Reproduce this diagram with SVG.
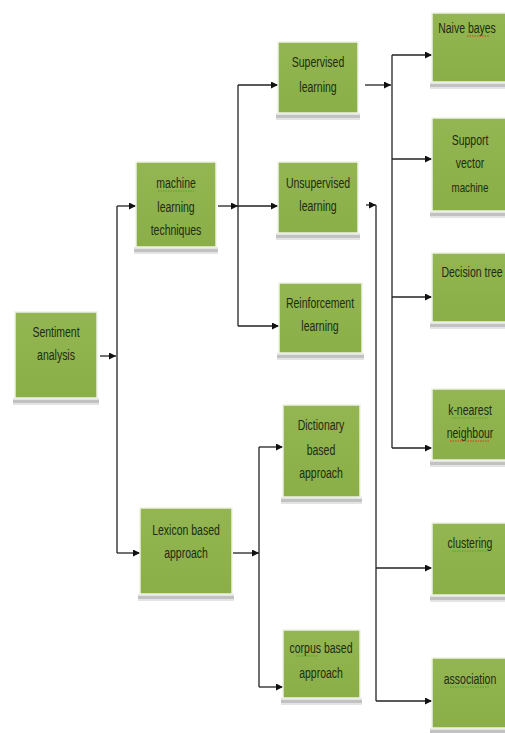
<svg xmlns="http://www.w3.org/2000/svg" width="505" height="733" viewBox="0 0 505 733">
<defs>
<marker id="ah" markerWidth="7" markerHeight="7" refX="7" refY="3.5" orient="auto" markerUnits="userSpaceOnUse">
<path d="M0,0 L7,3.5 L0,7 z" fill="#111"/>
</marker>
<linearGradient id="g" x1="0" y1="0" x2="0" y2="1">
<stop offset="0" stop-color="#93b652"/>
<stop offset="1" stop-color="#8aae48"/>
</linearGradient>
</defs>
<style>
.box{fill:url(#g);stroke:#eef2e4;stroke-width:1.5}
.sh{fill:#c2c2c2}
.shl{fill:#e4e4e4}
text{font-family:"Liberation Sans",Arial,sans-serif;font-size:14px;fill:#1f2b12;text-anchor:middle}
.c{fill:none;stroke:#222;stroke-width:1.3}
.a{fill:none;stroke:#222;stroke-width:1.3;marker-end:url(#ah)}
.sqg{fill:none;stroke:#5aa02c;stroke-width:1;stroke-dasharray:1.5 1}
.sqr{fill:none;stroke:#d0401c;stroke-width:1;stroke-dasharray:1.5 1}
</style>
<rect width="505" height="733" fill="#ffffff"/>

<g id="connectors">
<path class="a" d="M100,356 H116"/>
<path class="c" d="M117,206 V553"/>
<path class="a" d="M117,206 H136"/>
<path class="a" d="M117,553 H140"/>
<path class="a" d="M218,206 H238"/>
<path class="c" d="M238,85 V326"/>
<path class="a" d="M238,85 H278"/>
<path class="a" d="M238,206 H278"/>
<path class="a" d="M238,326 H279"/>
<path class="a" d="M365,85 H391"/>
<path class="c" d="M392,55 V448"/>
<path class="a" d="M392,55 H432"/>
<path class="a" d="M392,159 H432"/>
<path class="a" d="M392,297 H432"/>
<path class="a" d="M392,448 H432"/>
<path class="a" d="M366,205 H376"/>
<path class="c" d="M376,205 V701"/>
<path class="a" d="M376,568 H432"/>
<path class="a" d="M376,701 H432"/>
<path class="a" d="M233,553 H259"/>
<path class="c" d="M259,447 V687"/>
<path class="a" d="M259,447 H283"/>
<path class="a" d="M259,687 H283"/>
</g>

<g id="sentiment">
<rect class="shl" x="13" y="398" width="86" height="7"/><rect class="sh" x="13" y="400" width="86" height="3"/>
<rect class="box" x="15" y="312" width="82" height="86"/>
<text transform="translate(56,337) scale(0.75,1)">Sentiment</text><text transform="translate(56,360) scale(0.75,1)">analysis</text>
</g>

<g id="machine">
<rect class="shl" x="134" y="247" width="84" height="7"/><rect class="sh" x="134" y="249" width="84" height="3"/>
<rect class="box" x="136" y="162" width="80" height="85"/>
<text transform="translate(176,188) scale(0.75,1)">machine</text><text transform="translate(176,212) scale(0.75,1)">learning</text><text transform="translate(176,235) scale(0.75,1)">techniques</text>
<path class="sqg" d="M158,191 H194"/>
</g>

<g id="supervised">
<rect class="shl" x="276" y="113" width="84" height="7"/><rect class="sh" x="276" y="115" width="84" height="3"/>
<rect class="box" x="278" y="42" width="80" height="71"/>
<text transform="translate(318,67) scale(0.75,1)">Supervised</text><text transform="translate(318,92) scale(0.75,1)">learning</text>
</g>

<g id="unsupervised">
<rect class="shl" x="276" y="233" width="84" height="7"/><rect class="sh" x="276" y="235" width="84" height="3"/>
<rect class="box" x="278" y="162" width="80" height="71"/>
<text transform="translate(318,188) scale(0.75,1)">Unsupervised</text><text transform="translate(318,211) scale(0.75,1)">learning</text>
</g>

<g id="reinforcement">
<rect class="shl" x="277" y="353" width="87" height="7"/><rect class="sh" x="277" y="355" width="87" height="3"/>
<rect class="box" x="279" y="283" width="83" height="70"/>
<text transform="translate(320,308) scale(0.75,1)">Reinforcement</text><text transform="translate(320,331) scale(0.75,1)">learning</text>
</g>

<g id="lexicon">
<rect class="shl" x="138" y="594" width="96" height="7"/><rect class="sh" x="138" y="596" width="96" height="3"/>
<rect class="box" x="140" y="508" width="92" height="86"/>
<text transform="translate(186,535) scale(0.75,1)">Lexicon based</text><text transform="translate(186,558) scale(0.75,1)">approach</text>
</g>

<g id="dictionary">
<rect class="shl" x="281" y="497" width="81" height="7"/><rect class="sh" x="281" y="499" width="81" height="3"/>
<rect class="box" x="283" y="405" width="77" height="92"/>
<text transform="translate(321,430) scale(0.75,1)">Dictionary</text><text transform="translate(321,455) scale(0.75,1)">based</text><text transform="translate(321,478) scale(0.75,1)">approach</text>
</g>

<g id="corpus">
<rect class="shl" x="281" y="698" width="81" height="7"/><rect class="sh" x="281" y="700" width="81" height="3"/>
<rect class="box" x="283" y="630" width="77" height="68"/>
<text transform="translate(321,653) scale(0.75,1)">corpus based</text><text transform="translate(321,678) scale(0.75,1)">approach</text>
<path class="sqg" d="M296,656 H318"/>
</g>

<g id="naive">
<rect class="shl" x="430" y="82" width="80" height="7"/><rect class="sh" x="430" y="84" width="80" height="3"/>
<rect class="box" x="432" y="13" width="80" height="69"/>
<text transform="translate(467,33) scale(0.75,1)">Naive bayes</text>
<path class="sqr" d="M467,36 H489"/>
</g>

<g id="svm">
<rect class="shl" x="430" y="211" width="80" height="7"/><rect class="sh" x="430" y="213" width="80" height="3"/>
<rect class="box" x="432" y="118" width="80" height="93"/>
<text transform="translate(470,145) scale(0.75,1)">Support</text><text transform="translate(470,168) scale(0.75,1)">vector</text><text transform="translate(470,192) scale(0.75,1)" style="font-size:13px">machine</text>
</g>

<g id="decision">
<rect class="shl" x="430" y="322" width="80" height="7"/><rect class="sh" x="430" y="324" width="80" height="3"/>
<rect class="box" x="432" y="253" width="80" height="69"/>
<text transform="translate(472,277) scale(0.75,1)">Decision tree</text>
</g>

<g id="knn">
<rect class="shl" x="430" y="460" width="80" height="7"/><rect class="sh" x="430" y="462" width="80" height="3"/>
<rect class="box" x="432" y="389" width="80" height="71"/>
<text transform="translate(470,415) scale(0.75,1)">k-nearest</text><text transform="translate(470,438) scale(0.75,1)">neighbour</text>
<path class="sqg" d="M452,418 H488"/>
<path class="sqr" d="M450,441 H490"/>
</g>

<g id="clustering">
<rect class="shl" x="430" y="595" width="80" height="7"/><rect class="sh" x="430" y="597" width="80" height="3"/>
<rect class="box" x="432" y="523" width="80" height="72"/>
<text transform="translate(470,548) scale(0.75,1)">clustering</text>
<path class="sqg" d="M452,551 H488"/>
</g>

<g id="association">
<rect class="shl" x="430" y="728" width="80" height="7"/><rect class="sh" x="430" y="730" width="80" height="3"/>
<rect class="box" x="432" y="658" width="80" height="70"/>
<text transform="translate(470,684) scale(0.75,1)">association</text>
<path class="sqg" d="M450,687 H490"/>
</g>
</svg>
